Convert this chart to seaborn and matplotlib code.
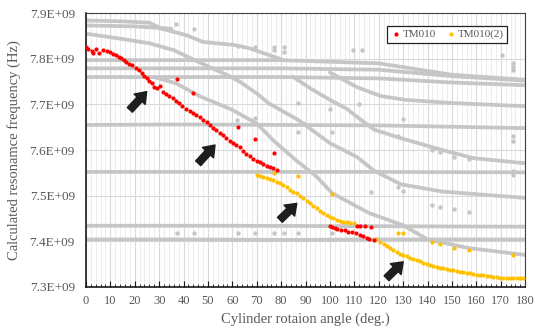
import numpy as np
import pandas as pd
import matplotlib
matplotlib.use("Agg")
import matplotlib.pyplot as plt
from matplotlib.ticker import MultipleLocator, FuncFormatter
import seaborn as sns

# ---------------- data (angle in deg, frequency in GHz -> shown as E+09) ----------------
# gray (other modes) curves: key points
F1_x = [0, 40, 80, 120, 160, 180];        F1_y = [7.404, 7.404, 7.403, 7.404, 7.404, 7.404]
F2_x = [0, 60, 120, 180];                 F2_y = [7.434, 7.434, 7.433, 7.432]
F3_x = [0, 60, 120, 180];                 F3_y = [7.552, 7.552, 7.552, 7.551]
F4_x = [0, 40, 80, 120, 150, 180];        F4_y = [7.655, 7.656, 7.655, 7.654, 7.651, 7.648]
F5_x = [0, 80, 120, 150, 180];            F5_y = [7.797, 7.797, 7.790, 7.765, 7.754]
F6_x = [0, 80, 120, 150, 180];            F6_y = [7.779, 7.779, 7.776, 7.762, 7.752]
F7_x = [0, 80, 120, 150, 180];            F7_y = [7.760, 7.760, 7.757, 7.748, 7.742]
D1_x = [0, 15, 26, 31, 41, 48, 61, 67, 73, 80]
D1_y = [7.884, 7.882, 7.879, 7.866, 7.852, 7.837, 7.830, 7.823, 7.812, 7.799]
D1b_x = [0, 20, 35];                      D1b_y = [7.873, 7.871, 7.866]
C2_x = [0, 13, 26, 36, 41, 49, 58, 63, 70, 75, 87, 100, 111, 118, 129, 146, 180]
C2_y = [7.855, 7.845, 7.834, 7.819, 7.806, 7.786, 7.764, 7.750, 7.724, 7.702, 7.666,
        7.615, 7.585, 7.555, 7.525, 7.509, 7.495]
D3_x = [28, 37, 47, 60, 70, 77, 86, 94.5, 101, 116, 130, 140, 157, 180]
D3_y = [7.760, 7.746, 7.717, 7.688, 7.658, 7.620, 7.578, 7.542, 7.505, 7.462, 7.435,
        7.404, 7.385, 7.370]
D6_x = [85, 92, 100, 107, 111, 118, 129, 146, 159, 180]
D6_y = [7.760, 7.735, 7.710, 7.690, 7.673, 7.645, 7.626, 7.600, 7.582, 7.571]
D7_x = [100, 111, 121, 131, 150, 180]
D7_y = [7.770, 7.738, 7.718, 7.710, 7.703, 7.696]

gray_dot_x = [37.2, 44.3, 62.2, 69.3, 77.2, 81.3, 87, 101, 117,
              37, 44.3, 62.2, 69.3, 77, 81.3, 77, 81.3, 87, 109.5, 113, 170.4, 175, 175, 175,
              62, 69.3, 87, 101, 128, 130, 142, 145, 151, 157, 175, 175,
              128, 130, 142, 145, 151, 157, 175, 175, 100, 112, 89]
gray_dot_y = [7.419, 7.419, 7.418, 7.418, 7.418, 7.418, 7.418, 7.418, 7.509,
              7.877, 7.865, 7.829, 7.825, 7.826, 7.826, 7.820, 7.815, 7.702, 7.820, 7.820,
              7.808, 7.782, 7.775, 7.790,
              7.665, 7.670, 7.640, 7.640, 7.630, 7.668, 7.600, 7.595, 7.585, 7.580, 7.620, 7.630,
              7.520, 7.510, 7.480, 7.475, 7.470, 7.465, 7.555, 7.545, 7.690, 7.700, 7.660]

# TM010 (red)
tm_x = [0, 1, 2.3, 2.7, 4, 5.5, 7, 8.5, 10, 11.2, 12.3, 13.4, 14.3, 15.4, 16.4, 17.8, 19,
        20.5, 21.8, 23, 24, 25, 26, 27, 28, 29, 30.3, 31.5, 32.8, 34, 35.5, 37, 38.2, 39.5,
        41, 42.5, 44, 45.3, 46.7, 48, 49.5, 51, 52.2, 53.5, 55, 56.3, 57.6, 59, 60.3, 61.7,
        63, 64.4, 65.8, 67.2, 68.6, 70, 71.3, 72.7, 74, 75.4, 76.8, 78.2,
        37.2, 44, 62.2, 69.3, 77.2,
        100, 101, 102, 103, 104.5, 106, 107.5, 109, 110.5, 112.5, 113.5, 115, 116.2, 118,
        111.2, 112.5, 114.3, 117]
tm_y = [7.826, 7.822, 7.818, 7.812, 7.821, 7.813, 7.819, 7.817, 7.815, 7.811, 7.808, 7.804,
        7.801, 7.797, 7.793, 7.789, 7.786, 7.780, 7.775, 7.768, 7.762, 7.757, 7.752, 7.746,
        7.739, 7.737, 7.741, 7.727, 7.722, 7.718, 7.713, 7.708, 7.702, 7.697, 7.691, 7.686,
        7.681, 7.677, 7.673, 7.666, 7.661, 7.654, 7.648, 7.643, 7.637, 7.632, 7.626, 7.620,
        7.615, 7.610, 7.606, 7.598, 7.592, 7.586, 7.580, 7.575, 7.573, 7.569, 7.564, 7.562,
        7.560, 7.557,
        7.755, 7.724, 7.651, 7.624, 7.593,
        7.434, 7.432, 7.429, 7.427, 7.425, 7.424, 7.421, 7.420, 7.418, 7.414, 7.411, 7.407,
        7.405, 7.403,
        7.433, 7.433, 7.433, 7.432]

# TM010(2) (yellow)
tm2_x = [70, 71.3, 72.7, 74, 75.4, 76.8, 78.2, 79.6, 80.9, 82.2, 83.6, 85, 86.4, 87.7, 89,
         90.4, 91.8, 93.2, 94.5, 95.9, 97.3, 98.7, 100, 101.3, 102.7, 104, 105.5, 107, 108.2,
         110,
         119, 120.5, 122, 123.3, 124.6, 126, 127.3, 128.7, 130, 131.4, 132.8, 134.2, 135.5,
         137, 138.3, 139.7, 141, 142.4, 143.7, 145, 146.4, 147.8, 149.2, 150.5, 151.9, 153.3,
         154.6, 156, 157.4, 158.8, 160.1, 161.5, 162.8, 164.2, 165.6, 167, 168.3, 169.7, 171,
         172.4, 173.8, 175.2, 176.6, 178, 179.3,
         77.2, 87, 101, 128, 130, 142, 145, 151, 157, 175]
tm2_y = [7.545, 7.543, 7.541, 7.539, 7.537, 7.534, 7.531, 7.527, 7.523, 7.518, 7.513, 7.509,
         7.505, 7.499, 7.494, 7.488, 7.483, 7.478, 7.472, 7.467, 7.461, 7.457, 7.453, 7.450,
         7.447, 7.445, 7.443, 7.442, 7.441, 7.439,
         7.404, 7.399, 7.394, 7.389, 7.385, 7.381, 7.377, 7.373, 7.370, 7.367, 7.364, 7.361,
         7.359, 7.356, 7.353, 7.351, 7.348, 7.346, 7.344, 7.342, 7.341, 7.339, 7.337, 7.336,
         7.335, 7.333, 7.332, 7.331, 7.330, 7.328, 7.327, 7.326, 7.325, 7.324, 7.323, 7.322,
         7.321, 7.320, 7.320, 7.319, 7.319, 7.319, 7.319, 7.319, 7.319,
         7.550, 7.542, 7.503, 7.418, 7.418, 7.398, 7.394, 7.386, 7.380, 7.369]

# arrows (tail -> head) in data coordinates
arrow_tails = [(18.0, 7.688), (46.0, 7.571), (79.5, 7.447), (123.2, 7.319)]
arrow_heads = [(24.9, 7.728), (52.9, 7.611), (86.4, 7.483), (130.0, 7.355)]

# ---------------- style ----------------
sns.set_theme(style="white")
plt.rcParams["font.family"] = ["Liberation Serif", "DejaVu Serif"]
TXT = "#595959"
GRAY = "#c6c6c6"

fig = plt.figure(figsize=(5.37, 3.29), dpi=100)
ax = fig.add_axes([0.160, 0.128, 0.818, 0.832])

curves = {
    "F1": (F1_x, F1_y), "F2": (F2_x, F2_y), "F3": (F3_x, F3_y), "F4": (F4_x, F4_y),
    "F5": (F5_x, F5_y), "F6": (F6_x, F6_y), "F7": (F7_x, F7_y), "D1": (D1_x, D1_y),
    "D1b": (D1b_x, D1b_y), "C2": (C2_x, C2_y), "D3": (D3_x, D3_y), "D6": (D6_x, D6_y),
    "D7": (D7_x, D7_y),
}
rows = []
for name, (xs, ys) in curves.items():
    for i, (a, b) in enumerate(zip(xs, ys)):
        rows.append({"curve": name, "order": i, "deg": a, "f": b})
gdf = pd.DataFrame(rows)

sns.lineplot(data=gdf, x="deg", y="f", units="curve", estimator=None, sort=False,
             color=GRAY, lw=2.7, ax=ax, zorder=2, solid_capstyle="round",
             solid_joinstyle="round")
sns.scatterplot(x=gray_dot_x, y=gray_dot_y, color=GRAY, s=10, linewidth=0, ax=ax, zorder=2)

sns.scatterplot(x=tm_x, y=tm_y, color="#ff0000", s=9, linewidth=0, ax=ax, zorder=4,
                label="TM010")
sns.scatterplot(x=tm2_x, y=tm2_y, color="#ffc000", s=9, linewidth=0, ax=ax, zorder=3,
                label="TM010(2)")

for t, h in zip(arrow_tails, arrow_heads):
    ax.annotate("", xy=h, xytext=t,
                arrowprops=dict(arrowstyle="simple,head_length=0.75,head_width=1.1,tail_width=0.5",
                                color="#1e1e1e", mutation_scale=10, shrinkA=0, shrinkB=0),
                zorder=6)

ax.set_xlim(0, 180)
ax.set_ylim(7.3, 7.9)
ax.xaxis.set_major_locator(MultipleLocator(10))
ax.xaxis.set_minor_locator(MultipleLocator(2))
ax.yaxis.set_major_locator(MultipleLocator(0.1))
ax.yaxis.set_major_formatter(FuncFormatter(lambda v, _: f"{v:.1f}E+09"))

ax.grid(which="major", axis="both", color="#d9d9d9", lw=0.8, zorder=0)
ax.grid(which="minor", axis="x", color="#ececec", lw=0.7, zorder=0)
ax.set_axisbelow(True)

ax.tick_params(axis="x", which="major", direction="in", length=4, width=0.8,
               color="#1a1a1a", labelsize=9, labelcolor=TXT, pad=6, bottom=True)
ax.tick_params(axis="x", which="minor", direction="in", length=2.5, width=0.6,
               color="#1a1a1a", bottom=True)
ax.tick_params(axis="y", length=0, labelsize=9.5, labelcolor=TXT, pad=8)

for s in ["left", "bottom"]:
    ax.spines[s].set_color("#1a1a1a")
    ax.spines[s].set_linewidth(1.2)
for s in ["top", "right"]:
    ax.spines[s].set_color("#404040")
    ax.spines[s].set_linewidth(0.8)

ax.set_xlabel("Cylinder rotaion angle (deg.)", fontsize=10.5, color=TXT, labelpad=4)
ax.set_ylabel("Calculated resonamce frequency (Hz)", fontsize=10.5, color=TXT, labelpad=6)

leg = ax.legend(loc="upper right", bbox_to_anchor=(0.972, 0.975), ncol=2, fontsize=8,
                frameon=True, fancybox=False, framealpha=1, edgecolor="#222222",
                handletextpad=0.1, columnspacing=0.8, markerscale=1.0, borderpad=0.35,
                handlelength=1.0)
leg.get_frame().set_linewidth(0.9)
for t in leg.get_texts():
    t.set_color(TXT)

fig.savefig("out.png", dpi=100)
